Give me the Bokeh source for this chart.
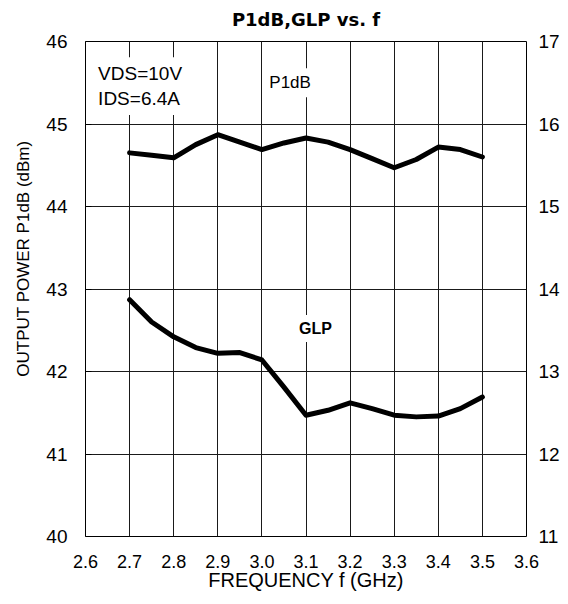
from bokeh.plotting import figure
from bokeh.models import Range1d, LinearAxis, FixedTicker, Label, PrintfTickFormatter, Title
from bokeh.embed import file_html
from bokeh.resources import INLINE

# ---- data ----
freq = [2.70, 2.75, 2.80, 2.85, 2.90, 2.95, 3.00, 3.05, 3.10, 3.15,
        3.20, 3.25, 3.30, 3.35, 3.40, 3.45, 3.50]
p1db = [44.65, 44.62, 44.59, 44.75, 44.87, 44.78, 44.69, 44.77, 44.83, 44.78,
        44.69, 44.58, 44.47, 44.57, 44.72, 44.69, 44.60]
glp = [13.87, 13.60, 13.42, 13.29, 13.22, 13.23, 13.14, 12.81, 12.47, 12.53,
       12.62, 12.55, 12.47, 12.45, 12.46, 12.55, 12.69]

x_ticks = [2.6, 2.7, 2.8, 2.9, 3.0, 3.1, 3.2, 3.3, 3.4, 3.5, 3.6]
x_grid = [2.7, 2.8, 2.9, 3.0, 3.1, 3.2, 3.3, 3.4, 3.5]
p1db_ticks = [40, 41, 42, 43, 44, 45, 46]
p1db_grid = [41, 42, 43, 44, 45]
glp_ticks = [11, 12, 13, 14, 15, 16, 17]

title_text = "P1dB,GLP vs. f"
x_label = "FREQUENCY f (GHz)"
y_label = "OUTPUT POWER P1dB (dBm)"
note_lines = ["VDS=10V", "IDS=6.4A"]
series_names = ["P1dB", "GLP"]

FONT = "Liberation Sans"

p = figure(frame_width=441, frame_height=495,
           x_range=Range1d(2.6, 3.6), y_range=Range1d(40, 46),
           output_backend="svg", toolbar_location=None,
           title_location=None,
           min_border_left=85, min_border_right=34,
           min_border_top=41, min_border_bottom=60,
           background_fill_color="white", border_fill_color="white")
p.extra_y_ranges = {"glp": Range1d(11, 17)}

p.outline_line_color = "black"
p.outline_line_width = 1
p.outline_line_alpha = 1

# chart title: a small spacer panel sits between it and the frame
p.add_layout(Title(text=" ", text_font_size="1px", standoff=5), "above")
p.add_layout(Title(text=title_text, align="center", text_font="DejaVu Sans",
                   text_font_style="bold", text_font_size="18px",
                   text_color="black", standoff=8), "above")

# x axis
xa = p.xaxis[0]
xa.ticker = FixedTicker(ticks=x_ticks)
xa.formatter = PrintfTickFormatter(format="%.1f")
xa.axis_label = x_label
xa.axis_line_color = None
xa.major_tick_in = 0
xa.major_tick_out = 0
xa.minor_tick_line_color = None
xa.major_label_standoff = 18
xa.axis_label_standoff = -2
xa.major_label_text_font = FONT
xa.major_label_text_font_size = "18px"
xa.major_label_text_color = "black"
xa.axis_label_text_font = FONT
xa.axis_label_text_font_size = "20px"
xa.axis_label_text_font_style = "normal"
xa.axis_label_text_color = "black"

# left y axis
ya = p.yaxis[0]
ya.ticker = FixedTicker(ticks=p1db_ticks)
ya.axis_line_color = None
ya.major_tick_in = 6
ya.major_tick_out = 0
ya.major_tick_line_color = "black"
ya.minor_tick_line_color = None
ya.major_label_standoff = 18
ya.major_label_text_font = FONT
ya.major_label_text_font_size = "19px"
ya.major_label_text_color = "black"

# left axis title, placed towards the top as in the reference
p.add_layout(Title(text=y_label, align="right", offset=99,
                   text_font=FONT, text_font_size="17px",
                   text_font_style="normal", text_color="black",
                   standoff=22), "left")

# right y axis (GLP)
ra = LinearAxis(y_range_name="glp", ticker=FixedTicker(ticks=glp_ticks))
ra.axis_line_color = None
ra.major_tick_in = 0
ra.major_tick_out = 0
ra.minor_tick_line_color = None
ra.major_label_standoff = 12
ra.major_label_text_font = FONT
ra.major_label_text_font_size = "19px"
ra.major_label_text_color = "black"
p.add_layout(ra, "right")

# grids
p.xgrid.ticker = FixedTicker(ticks=x_grid)
p.ygrid.ticker = FixedTicker(ticks=p1db_grid)
for g in (p.xgrid[0], p.ygrid[0]):
    g.grid_line_color = "#1a1a1a"
    g.grid_line_width = 1
    g.grid_line_alpha = 1

# data lines
p.line(freq, p1db, line_width=5, line_color="black",
       line_join="round", line_cap="round")
p.line(freq, glp, y_range_name="glp", line_width=5, line_color="black",
       line_join="round", line_cap="round")

# annotations
p.add_layout(Label(x=2.615, y=45.61, text=note_lines[0], text_font=FONT,
                   text_font_size="19px", text_baseline="middle",
                   text_color="black", background_fill_color="white",
                   padding=6))
p.add_layout(Label(x=2.615, y=45.31, text=note_lines[1], text_font=FONT,
                   text_font_size="19px", text_baseline="middle",
                   text_color="black", background_fill_color="white",
                   padding=6))
p.add_layout(Label(x=3.064, y=45.50, text=series_names[0], text_font=FONT,
                   text_font_size="17px", text_baseline="middle",
                   text_align="center", text_color="black",
                   background_fill_color="white", padding=5))
p.add_layout(Label(x=3.1215, y=42.52, text=series_names[1], text_font=FONT,
                   text_font_size="16px", text_font_style="bold",
                   text_baseline="middle", text_align="center",
                   text_color="black", background_fill_color="white",
                   padding=5))

open("out.html", "w").write(file_html(p, INLINE))
